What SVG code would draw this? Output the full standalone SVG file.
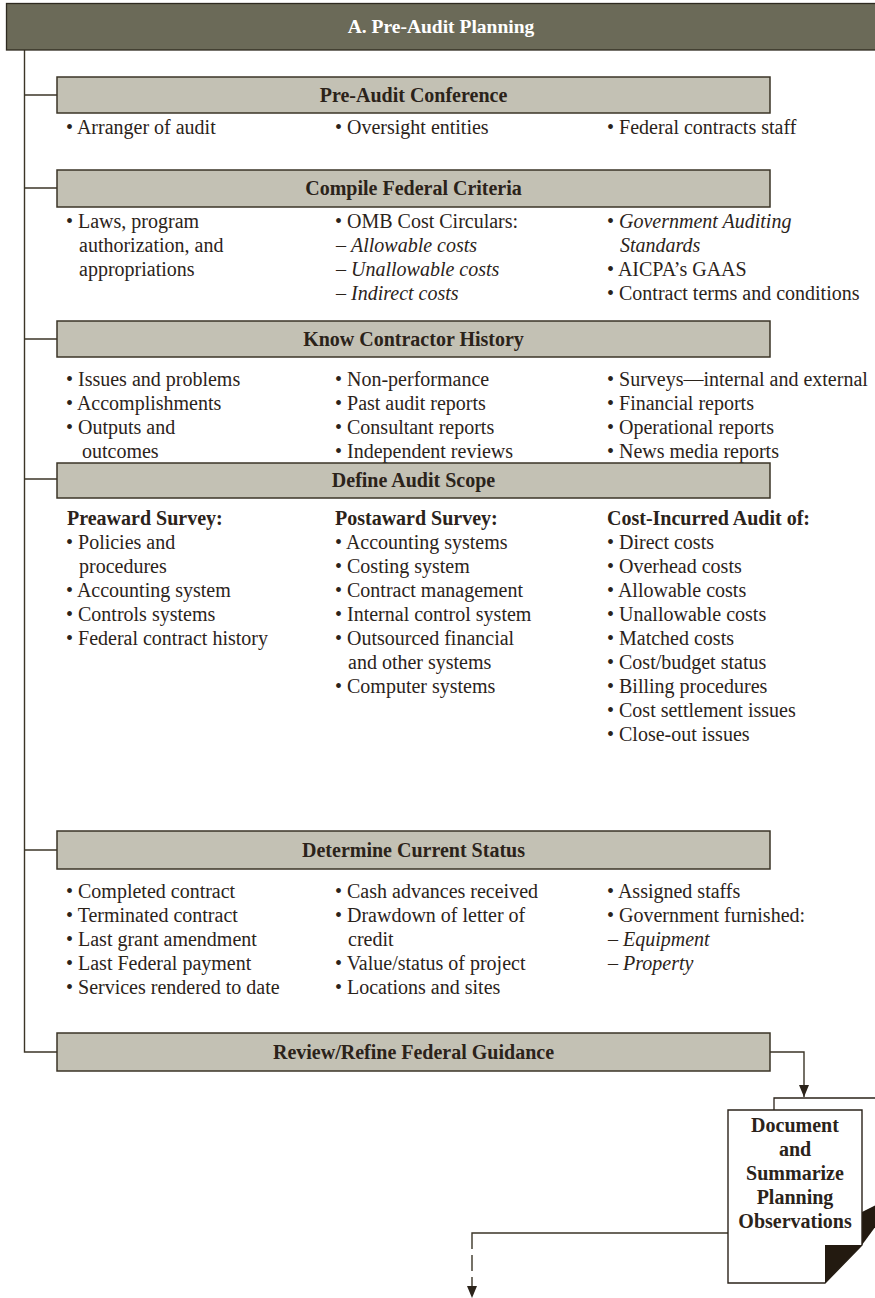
<svg xmlns="http://www.w3.org/2000/svg" width="875" height="1298" viewBox="0 0 875 1298">
<style>
.t{font-family:"Liberation Serif","Times New Roman",serif;font-size:20px;fill:#2b231a}
.i{font-style:italic}
.b{font-weight:bold}
.h{font-family:"Liberation Serif","Times New Roman",serif;font-size:20px;font-weight:bold;fill:#2b231a;text-anchor:middle}
.box{fill:#c3c1b4;stroke:#3b3527;stroke-width:1.5}
.ln{fill:none;stroke:#3b3527;stroke-width:1.4}
</style>
<defs>
<marker id="ah" markerWidth="12" markerHeight="10" refX="12" refY="5" orient="auto" markerUnits="userSpaceOnUse">
<path d="M0,0 L12,5 L0,10 Z" fill="#2b231a"/>
</marker>
</defs>

<g id="connectors">
<path class="ln" d="M24.5,50 V1052 H57"/>
<path class="ln" d="M24.5,95 H57"/>
<path class="ln" d="M24.5,188 H57"/>
<path class="ln" d="M24.5,339 H57"/>
<path class="ln" d="M24.5,479 H57"/>
<path class="ln" d="M24.5,850 H57"/>
<path class="ln" d="M770,1052 H804 V1097" marker-end="url(#ah)"/>
<path class="ln" d="M728,1233 H472 V1249"/>
<path class="ln" d="M472,1255 V1298" stroke-dasharray="16 6" marker-end="url(#ah)"/>
</g>

<g id="header">
<rect x="6.5" y="3.5" width="880" height="46.5" fill="#6b6a58" stroke="#2e2a20" stroke-width="1.3"/>
<text x="441" y="33" class="h" style="fill:#ffffff;font-size:19.5px">A. Pre-Audit Planning</text>
</g>

<g id="pre-audit-conference">
<rect class="box" x="57" y="77" width="713" height="36"/>
<text x="413.5" y="101.5" class="h">Pre-Audit Conference</text>
<text class="t" x="66" y="134">• Arranger of audit</text>
<text class="t" x="335" y="134">• Oversight entities</text>
<text class="t" x="607" y="134">• Federal contracts staff</text>
</g>

<g id="compile-federal-criteria">
<rect class="box" x="57" y="170" width="713" height="37"/>
<text x="413.5" y="195" class="h">Compile Federal Criteria</text>
<text class="t" x="66" y="228">• Laws, program</text>
<text class="t" x="79" y="252">authorization, and</text>
<text class="t" x="79" y="276">appropriations</text>
<text class="t" x="335" y="228">• OMB Cost Circulars:</text>
<text class="t" x="336" y="252">– <tspan class="i">Allowable costs</tspan></text>
<text class="t" x="336" y="276">– <tspan class="i">Unallowable costs</tspan></text>
<text class="t" x="336" y="300">– <tspan class="i">Indirect costs</tspan></text>
<text class="t" x="607" y="228">• <tspan class="i">Government Auditing</tspan></text>
<text class="t i" x="620" y="252">Standards</text>
<text class="t" x="607" y="276">• AICPA’s GAAS</text>
<text class="t" x="607" y="300">• Contract terms and conditions</text>
</g>

<g id="know-contractor-history">
<rect class="box" x="57" y="321" width="713" height="36"/>
<text x="413.5" y="345.5" class="h">Know Contractor History</text>
<text class="t" x="66" y="386">• Issues and problems</text>
<text class="t" x="66" y="410">• Accomplishments</text>
<text class="t" x="66" y="434">• Outputs and</text>
<text class="t" x="82" y="458">outcomes</text>
<text class="t" x="335" y="386">• Non-performance</text>
<text class="t" x="335" y="410">• Past audit reports</text>
<text class="t" x="335" y="434">• Consultant reports</text>
<text class="t" x="335" y="458">• Independent reviews</text>
<text class="t" x="607" y="386">• Surveys—internal and external</text>
<text class="t" x="607" y="410">• Financial reports</text>
<text class="t" x="607" y="434">• Operational reports</text>
<text class="t" x="607" y="458">• News media reports</text>
</g>

<g id="define-audit-scope">
<rect class="box" x="57" y="463" width="713" height="35"/>
<text x="413.5" y="486.5" class="h">Define Audit Scope</text>
<text class="t b" x="67" y="525">Preaward Survey:</text>
<text class="t" x="66" y="549">• Policies and</text>
<text class="t" x="79" y="573">procedures</text>
<text class="t" x="66" y="597">• Accounting system</text>
<text class="t" x="66" y="621">• Controls systems</text>
<text class="t" x="66" y="645">• Federal contract history</text>
<text class="t b" x="335" y="525">Postaward Survey:</text>
<text class="t" x="335" y="549">• Accounting systems</text>
<text class="t" x="335" y="573">• Costing system</text>
<text class="t" x="335" y="597">• Contract management</text>
<text class="t" x="335" y="621">• Internal control system</text>
<text class="t" x="335" y="645">• Outsourced financial</text>
<text class="t" x="348" y="669">and other systems</text>
<text class="t" x="335" y="693">• Computer systems</text>
<text class="t b" x="607" y="525">Cost-Incurred Audit of:</text>
<text class="t" x="607" y="549">• Direct costs</text>
<text class="t" x="607" y="573">• Overhead costs</text>
<text class="t" x="607" y="597">• Allowable costs</text>
<text class="t" x="607" y="621">• Unallowable costs</text>
<text class="t" x="607" y="645">• Matched costs</text>
<text class="t" x="607" y="669">• Cost/budget status</text>
<text class="t" x="607" y="693">• Billing procedures</text>
<text class="t" x="607" y="717">• Cost settlement issues</text>
<text class="t" x="607" y="741">• Close-out issues</text>
</g>

<g id="determine-current-status">
<rect class="box" x="57" y="831" width="713" height="38"/>
<text x="413.5" y="857" class="h">Determine Current Status</text>
<text class="t" x="66" y="898">• Completed contract</text>
<text class="t" x="66" y="922">• Terminated contract</text>
<text class="t" x="66" y="946">• Last grant amendment</text>
<text class="t" x="66" y="970">• Last Federal payment</text>
<text class="t" x="66" y="994">• Services rendered to date</text>
<text class="t" x="335" y="898">• Cash advances received</text>
<text class="t" x="335" y="922">• Drawdown of letter of</text>
<text class="t" x="348" y="946">credit</text>
<text class="t" x="335" y="970">• Value/status of project</text>
<text class="t" x="335" y="994">• Locations and sites</text>
<text class="t" x="607" y="898">• Assigned staffs</text>
<text class="t" x="607" y="922">• Government furnished:</text>
<text class="t" x="608" y="946">– <tspan class="i">Equipment</tspan></text>
<text class="t" x="608" y="970">– <tspan class="i">Property</tspan></text>
</g>

<g id="review-refine-federal-guidance">
<rect class="box" x="57" y="1033" width="713" height="38"/>
<text x="413.5" y="1059" class="h">Review/Refine Federal Guidance</text>
</g>

<g id="document-summarize">
<path d="M774,1110 V1098 H880" fill="none" stroke="#2b231a" stroke-width="1.3"/>
<polygon points="862,1212 876,1205 876,1226 862,1245" fill="#231a10"/>
<path d="M728,1110 H862 V1245 L825,1283 H728 Z" fill="#ffffff" stroke="#2b231a" stroke-width="1.4"/>
<polygon points="825,1245 862,1245 825,1283" fill="#231a10"/>
<text x="795" y="1132" class="h">Document</text>
<text x="795" y="1156" class="h">and</text>
<text x="795" y="1180" class="h">Summarize</text>
<text x="795" y="1204" class="h">Planning</text>
<text x="795" y="1228" class="h">Observations</text>
</g>
</svg>
